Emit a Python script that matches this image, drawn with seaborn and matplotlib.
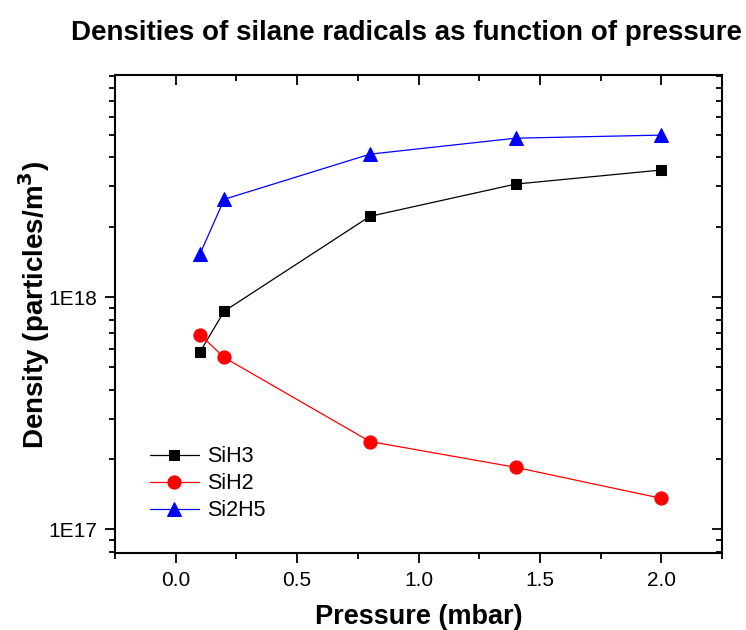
import numpy as np
import pandas as pd
import matplotlib
matplotlib.use("Agg")
import matplotlib.pyplot as plt
import matplotlib.ticker as mticker
import seaborn as sns

pressure = [0.1, 0.2, 0.8, 1.4, 2.0]
sih3 = [5.8e17, 8.7e17, 2.23e18, 3.07e18, 3.53e18]
sih2 = [6.9e17, 5.5e17, 2.39e17, 1.85e17, 1.36e17]
si2h5 = [1.53e18, 2.64e18, 4.13e18, 4.84e18, 4.99e18]
series_names = ["SiH3", "SiH2", "Si2H5"]
colors = ["#000000", "#ff0000", "#0000ff"]
markers = ["s", "o", "^"]
marker_sizes = [7.5, 9.5, 10.5]

df = pd.DataFrame({
    "Pressure": pressure * 3,
    "Density": sih3 + sih2 + si2h5,
    "Species": sum([[n] * len(pressure) for n in series_names], []),
})

sns.set_style("ticks")
plt.rcParams["font.family"] = ["Liberation Sans", "DejaVu Sans"]
plt.rcParams["text.color"] = "black"
plt.rcParams["axes.labelcolor"] = "black"
plt.rcParams["xtick.color"] = "black"
plt.rcParams["ytick.color"] = "black"

fig = plt.figure(figsize=(7.46, 6.30), dpi=100)
ax = fig.add_axes([0.154, 0.122, 0.814, 0.759])

for name, c, m, ms in zip(series_names, colors, markers, marker_sizes):
    sub = df[df["Species"] == name]
    sns.lineplot(data=sub, x="Pressure", y="Density", ax=ax, color=c, marker=m,
                 markersize=ms, markeredgecolor=c, linewidth=0.9,
                 label=name, estimator=None)

ax.set_yscale("log")
ax.set_xlim(-0.25, 2.25)
ax.set_ylim(7.9e16, 9.06e18)

def set_locators(xa, ya):
    if xa is not None:
        xa.set_major_locator(mticker.MultipleLocator(0.5))
        xa.set_minor_locator(mticker.MultipleLocator(0.25))
    if ya is not None:
        ya.set_major_locator(mticker.LogLocator(base=10, numticks=10))
        ya.set_minor_locator(mticker.LogLocator(base=10, subs=np.arange(2, 10), numticks=20))

set_locators(ax.xaxis, ax.yaxis)
ax.xaxis.set_major_formatter(mticker.FormatStrFormatter("%.1f"))
ax.yaxis.set_major_formatter(mticker.FuncFormatter(lambda v, p: "1E%d" % round(np.log10(v))))
ax.yaxis.set_minor_formatter(mticker.NullFormatter())

for sp in ax.spines.values():
    sp.set_linewidth(1.5)
    sp.set_color("black")
    sp.set_visible(True)

ax.tick_params(axis="both", which="major", direction="out", length=7, width=1.3,
               labelsize=15, colors="black", pad=6, top=False, right=False)
ax.tick_params(axis="both", which="minor", direction="out", length=4, width=1.3,
               top=False, right=False)

# mirrored inward ticks on top and right
secx = ax.secondary_xaxis("top")
set_locators(secx.xaxis, None)
secx.tick_params(which="major", direction="in", length=7, width=1.3, labeltop=False)
secx.tick_params(which="minor", direction="in", length=4, width=1.3)
secx.spines["top"].set_visible(False)
secy = ax.secondary_yaxis("right")
set_locators(None, secy.yaxis)
secy.tick_params(which="major", direction="in", length=7, width=1.3, labelright=False)
secy.tick_params(which="minor", direction="in", length=4, width=1.3)
secy.spines["right"].set_visible(False)

ax.set_xlabel("Pressure (mbar)", fontsize=19.5, fontweight="bold", labelpad=10)
ax.set_ylabel("Density (particles/m$^\\mathbf{3}$)", fontsize=20, fontweight="bold")
ax.yaxis.set_label_coords(-0.104, 0.52)
ax.grid(False)

leg = ax.legend(loc="lower left", bbox_to_anchor=(0.043, 0.049), frameon=False, fontsize=15.5,
                handlelength=2.3, handletextpad=0.35, labelspacing=0.28, borderaxespad=0)

fig.text(0.545, 0.948, "Densities of silane radicals as function of pressure",
         ha="center", va="center", fontsize=20, fontweight="bold")

fig.savefig("out.png", dpi=100, facecolor="white")
